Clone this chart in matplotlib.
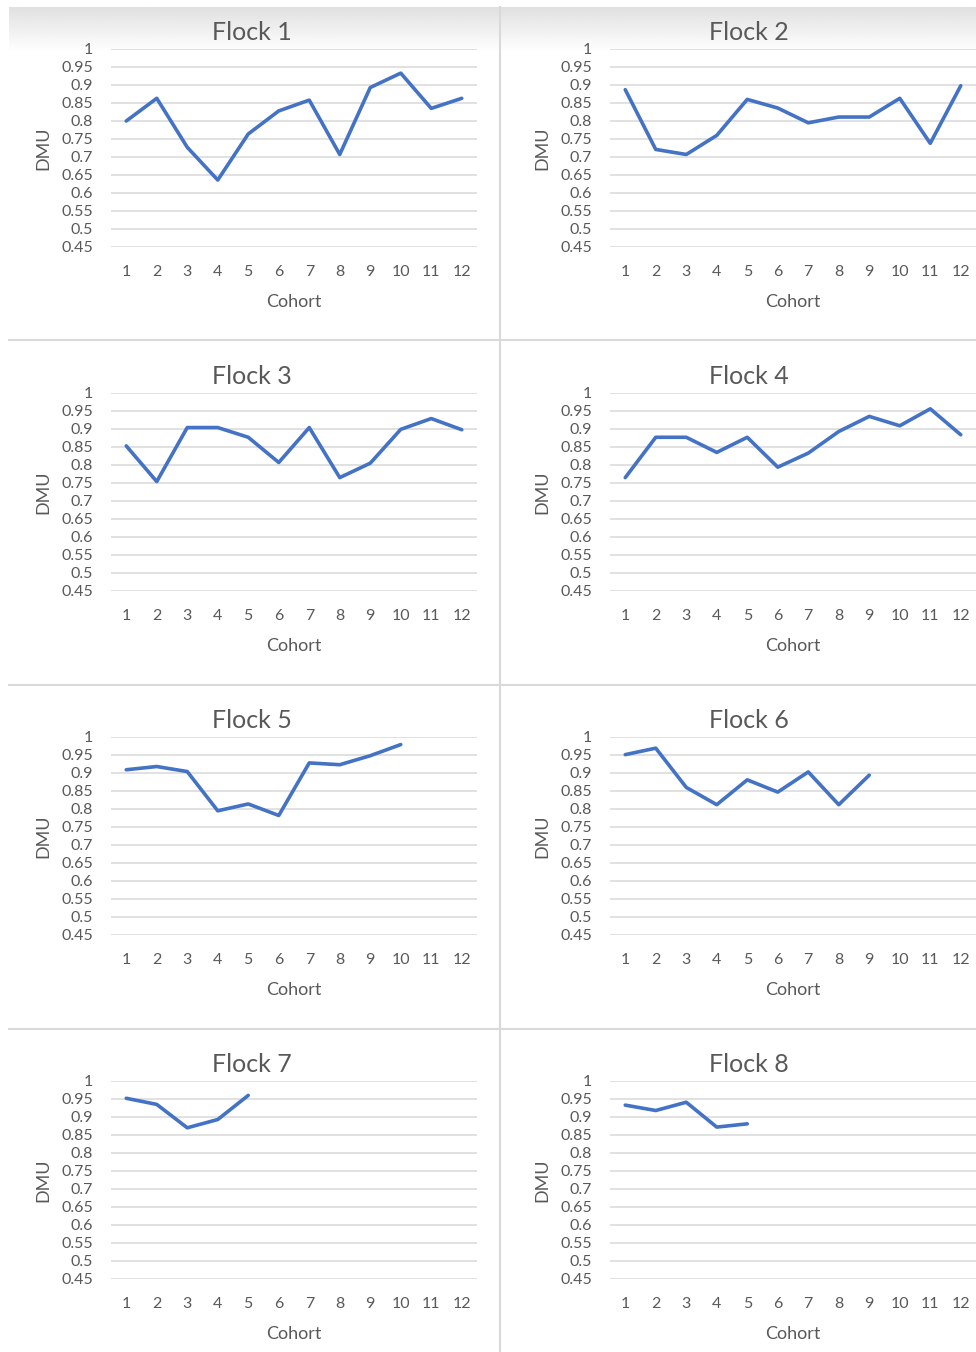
import numpy as np
import matplotlib.pyplot as plt

# ---- data ----
cohorts = list(range(1, 13))
flock_names = ['Flock 1', 'Flock 2', 'Flock 3', 'Flock 4',
               'Flock 5', 'Flock 6', 'Flock 7', 'Flock 8']

flock1 = [0.80, 0.863, 0.727, 0.636, 0.764, 0.828, 0.858, 0.707, 0.893, 0.933, 0.835, 0.863]
flock2 = [0.887, 0.721, 0.707, 0.760, 0.860, 0.836, 0.795, 0.811, 0.811, 0.863, 0.738, 0.898]
flock3 = [0.853, 0.754, 0.904, 0.904, 0.877, 0.807, 0.904, 0.765, 0.805, 0.899, 0.929, 0.898]
flock4 = [0.765, 0.877, 0.877, 0.835, 0.877, 0.794, 0.833, 0.893, 0.935, 0.909, 0.956, 0.884]
flock5 = [0.909, 0.918, 0.904, 0.795, 0.814, 0.782, 0.928, 0.923, 0.948, 0.979]
flock6 = [0.951, 0.969, 0.860, 0.812, 0.881, 0.847, 0.903, 0.812, 0.894]
flock7 = [0.952, 0.935, 0.870, 0.893, 0.960]
flock8 = [0.933, 0.918, 0.941, 0.872, 0.881]
flocks = [flock1, flock2, flock3, flock4, flock5, flock6, flock7, flock8]

y_ticks = [0.45, 0.5, 0.55, 0.6, 0.65, 0.7, 0.75, 0.8, 0.85, 0.9, 0.95, 1]
y_tick_labels = ['0.45', '0.5', '0.55', '0.6', '0.65', '0.7', '0.75', '0.8',
                 '0.85', '0.9', '0.95', '1']

# ---- styling ----
W, H = 976, 1352
txt = '#595959'
grid = '#d9d9d9'
blue = '#4472C4'
plt.rcParams['font.family'] = ['Lato', 'DejaVu Sans']

fig = plt.figure(figsize=(W / 100, H / 100), dpi=100)
fig.patch.set_facecolor('white')


def px_axes(x0, y0, x1, y1, **kw):
    return fig.add_axes([x0 / W, 1 - y1 / H, (x1 - x0) / W, (y1 - y0) / H], **kw)


# top shaded band (screenshot of chart header)
bg = px_axes(9, 7, W, 52, zorder=-5)
grad = np.linspace(0.88, 1.0, 60).reshape(-1, 1)
bg.imshow(grad, aspect='auto', cmap='gray', vmin=0, vmax=1, extent=[0, 1, 0, 1])
bg.axis('off')

# panel dividers
div = px_axes(0, 0, W, H, zorder=-4)
div.set_xlim(0, W)
div.set_ylim(H, 0)
div.axis('off')
div.plot([500, 500], [7, H], color=grid, lw=1.5)
for yy in [340, 685, 1029]:
    div.plot([9, W], [yy, yy], color=grid, lw=1.5)

col_x = [(111, 477), (610, 976)]
col_title_x = [252, 749]
row_y = [(49, 247), (393, 591), (737, 935), (1081, 1279)]

for i, vals in enumerate(flocks):
    r, c = divmod(i, 2)
    x0, x1 = col_x[c]
    y0, y1 = row_y[r]
    ax = px_axes(x0, y0, x1, y1)

    ax.plot(cohorts[:len(vals)], vals, color=blue, lw=2.6,
            solid_joinstyle='round', solid_capstyle='round', zorder=3)

    ax.set_xlim(0.5, 12.5)
    ax.set_ylim(0.45, 1.0)
    ax.set_xticks(cohorts)
    ax.set_xticklabels([str(k) for k in cohorts])
    ax.set_yticks(y_ticks)
    ax.set_yticklabels(y_tick_labels)
    ax.tick_params(length=0, colors=txt, labelsize=11.5)
    ax.tick_params(axis='x', pad=13)
    ax.tick_params(axis='y', pad=13)
    ax.grid(axis='y', color=grid, lw=1.1)
    ax.set_axisbelow(True)
    ax.set_facecolor('none')
    for s in ax.spines.values():
        s.set_visible(False)

    fig.text(col_title_x[c] / W, 1 - (y0 - 17) / H, flock_names[i],
             ha='center', va='center', fontsize=18, color=txt)
    fig.text((x0 + x1) / 2 / W, 1 - (y1 + 55) / H, 'Cohort',
             ha='center', va='center', fontsize=13, color=txt)
    fig.text((x0 - 68) / W, 1 - (y0 + y1) / 2 / H, 'DMU',
             ha='center', va='center', rotation=90, fontsize=13, color=txt)

fig.savefig('out.png', dpi=100)
